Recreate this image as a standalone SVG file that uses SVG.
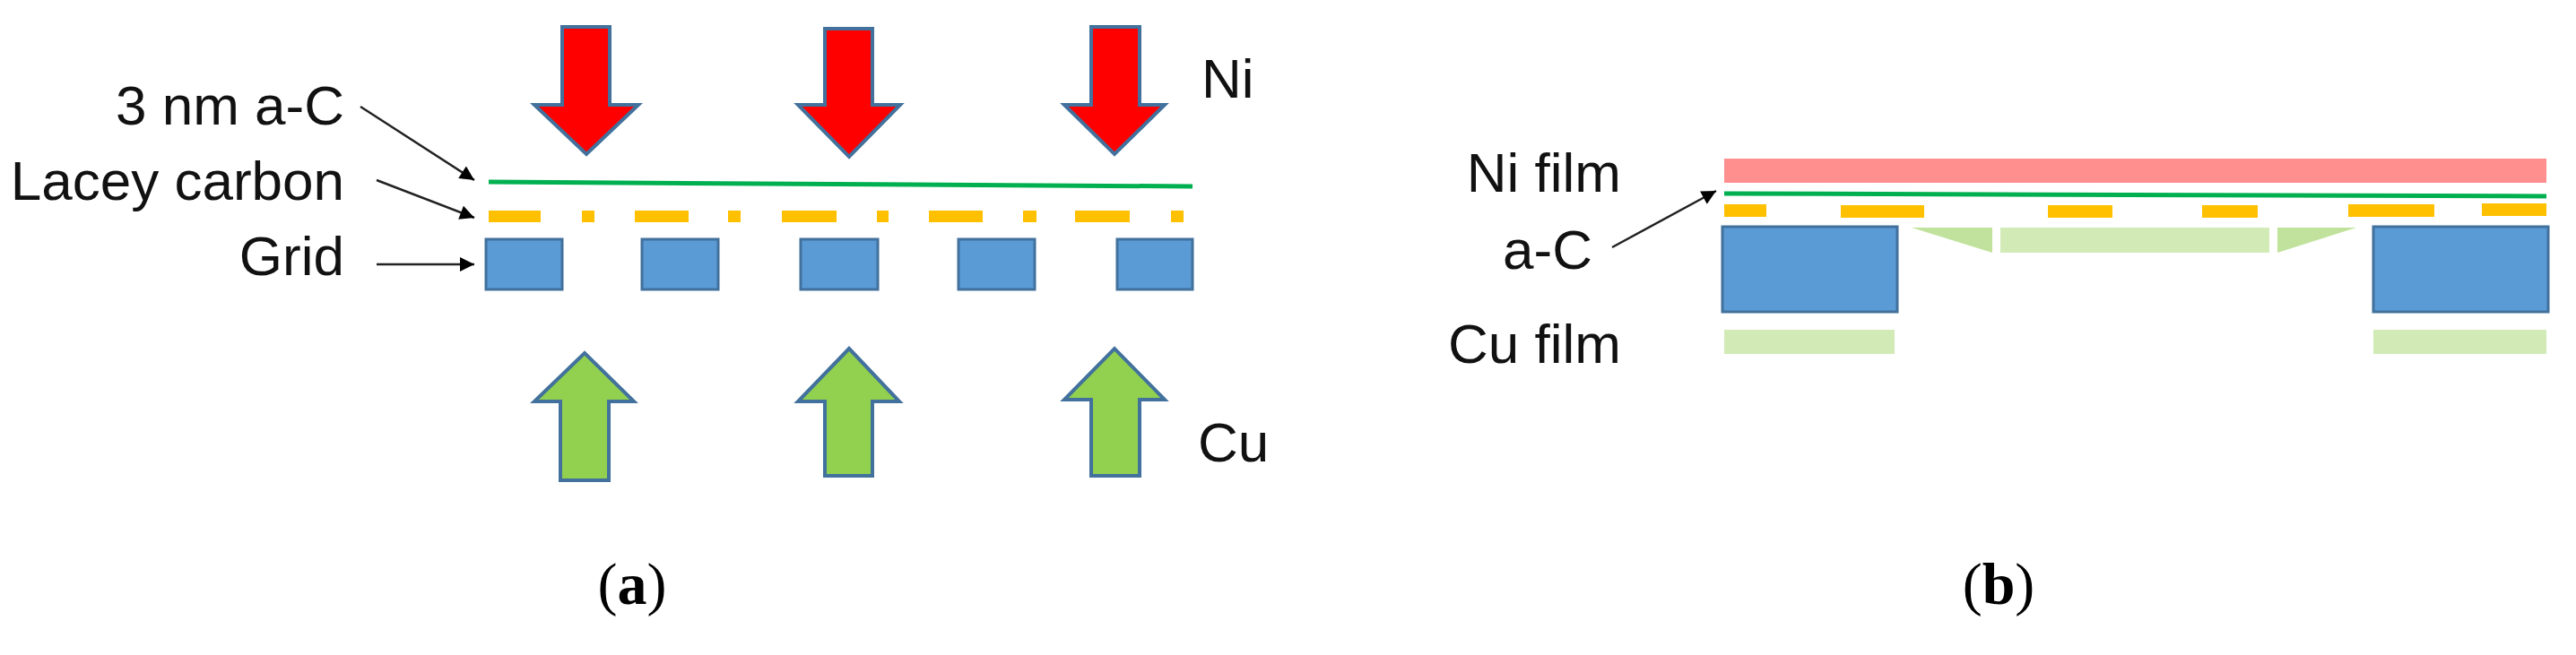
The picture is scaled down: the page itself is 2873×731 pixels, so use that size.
<svg xmlns="http://www.w3.org/2000/svg" width="2873" height="731" viewBox="0 0 2873 731">
<style>
.t{font-family:"Liberation Sans",Arial,sans-serif;font-size:62px;fill:#111}
.cap{font-family:"Liberation Serif","Times New Roman",serif;font-size:66px;fill:#000}
.red{fill:#FF0000;stroke:#41719C;stroke-width:4}
.grn{fill:#92D050;stroke:#41719C;stroke-width:4}
.blue{fill:#5B9BD5;stroke:#41719C;stroke-width:3}
.yel{fill:#FFC000}
.lg{fill:#D2EBB6}
.lg2{fill:#C1E29C}
.con{stroke:#222;stroke-width:2.5;fill:none;marker-end:url(#ah)}
</style>
<defs>
<marker id="ah" viewBox="0 0 10 10" refX="10" refY="5" markerWidth="24" markerHeight="16" markerUnits="userSpaceOnUse" orient="auto"><path d="M0,0 L10,5 L0,10 z" fill="#000"/></marker>
</defs>
<rect width="2873" height="731" fill="#fff"/>
<g id="panel-a">
<g id="ni-arrows">
<path class="red" d="M627,30 H680 V117 H712 L654,172 L596,117 H627 Z"/>
<path class="red" d="M920,32 H973 V117 H1004 L947,175 L890,117 H920 Z"/>
<path class="red" d="M1217,30 H1271 V117 H1299 L1243,172 L1187,117 H1217 Z"/>
</g>
<g id="cu-arrows">
<path class="grn" d="M625,536 H679 V448 H707 L652,394 L596,448 H625 Z"/>
<path class="grn" d="M920,531 H973 V448 H1003 L947,389 L890,448 H920 Z"/>
<path class="grn" d="M1217,531 H1271 V446 H1299 L1243,389 L1187,446 H1217 Z"/>
</g>
<g id="ac-line"><path d="M545,203 L1330,208" stroke="#00B050" stroke-width="5"/></g>
<g id="lacey">
<rect class="yel" x="545" y="235" width="58" height="13"/>
<rect class="yel" x="649" y="235" width="14" height="13"/>
<rect class="yel" x="708" y="235" width="60" height="13"/>
<rect class="yel" x="812" y="235" width="14" height="13"/>
<rect class="yel" x="872" y="235" width="61" height="13"/>
<rect class="yel" x="978" y="235" width="13" height="13"/>
<rect class="yel" x="1036" y="235" width="60" height="13"/>
<rect class="yel" x="1141" y="235" width="15" height="13"/>
<rect class="yel" x="1199" y="235" width="61" height="13"/>
<rect class="yel" x="1306" y="235" width="14" height="13"/>
</g>
<g id="grid">
<rect class="blue" x="542" y="267" width="85" height="56"/>
<rect class="blue" x="716" y="267" width="85" height="56"/>
<rect class="blue" x="893" y="267" width="86" height="56"/>
<rect class="blue" x="1069" y="267" width="85" height="56"/>
<rect class="blue" x="1246" y="267" width="84" height="56"/>
</g>
<g id="labels-a">
<text class="t" x="384" y="139" text-anchor="end">3 nm a-C</text>
<text class="t" x="384" y="223" text-anchor="end">Lacey carbon</text>
<text class="t" x="384" y="307" text-anchor="end">Grid</text>
<text class="t" x="1340" y="109">Ni</text>
<text class="t" x="1336" y="515">Cu</text>
<text class="cap" x="705" y="674" text-anchor="middle">(<tspan font-weight="bold">a</tspan>)</text>
</g>
</g>
<g id="panel-b">
<g id="ni-film"><rect x="1923" y="177" width="917" height="27" fill="#FF8F8F"/></g>
<g id="ac-b"><path d="M1923,216 L2840,219" stroke="#00B050" stroke-width="5"/></g>
<g id="lacey-b">
<rect class="yel" x="1923" y="228" width="47" height="14"/>
<rect class="yel" x="2053" y="229" width="93" height="14"/>
<rect class="yel" x="2284" y="229" width="72" height="14"/>
<rect class="yel" x="2456" y="229" width="62" height="14"/>
<rect class="yel" x="2619" y="228" width="96" height="14"/>
<rect class="yel" x="2768" y="227" width="72" height="14"/>
</g>
<g id="grid-b">
<rect class="blue" x="1921" y="253" width="195" height="95"/>
<rect class="blue" x="2647" y="253" width="195" height="95"/>
</g>
<g id="cu-deposit">
<path class="lg2" d="M2132,254 H2222 V282 Z"/>
<rect class="lg" x="2231" y="254" width="300" height="28"/>
<path class="lg2" d="M2540,254 H2628 L2540,282 Z"/>
</g>
<g id="cu-film">
<rect class="lg" x="1923" y="368" width="190" height="27"/>
<rect class="lg" x="2647" y="368" width="193" height="27"/>
</g>
<g id="labels-b">
<text class="t" x="1808" y="214" text-anchor="end">Ni film</text>
<text class="t" x="1776" y="300" text-anchor="end">a-C</text>
<text class="t" x="1808" y="405" text-anchor="end">Cu film</text>
<text class="cap" x="2229" y="674" text-anchor="middle">(<tspan font-weight="bold">b</tspan>)</text>
</g>
</g>
<g id="connectors">
<path class="con" d="M402,119 L529,201"/>
<path class="con" d="M420,201 L529,243"/>
<path class="con" d="M420,295 L529,295"/>
<path class="con" d="M1798,276 L1914,213"/>
</g>
</svg>
